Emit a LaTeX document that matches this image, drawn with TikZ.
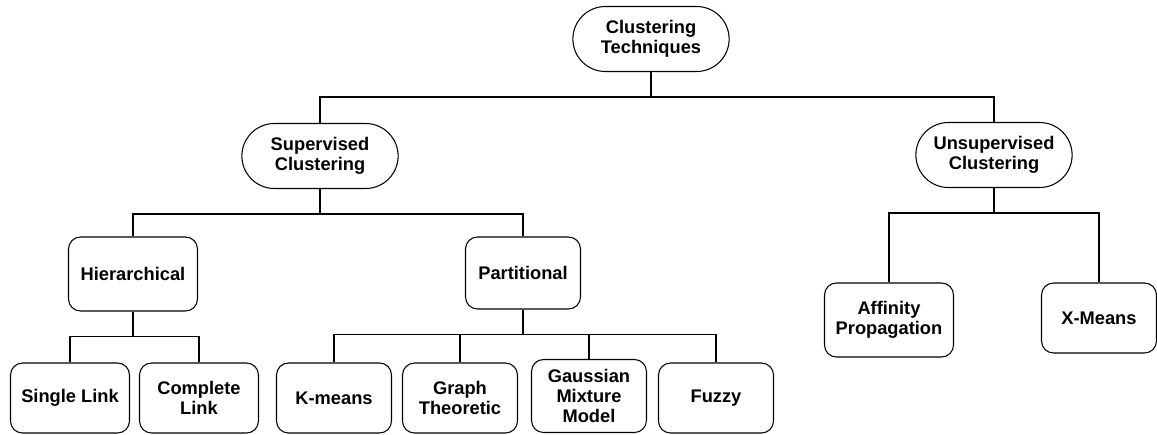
\documentclass[tikz,border=0pt]{standalone}
\usepackage{fontspec}
\setmainfont{Liberation Sans}
\usetikzlibrary{shapes.misc}

\begin{document}
\begin{tikzpicture}[
    x=0.02cm, y=-0.02cm,
    every node/.style = {font=\bfseries\fontsize{10.4}{11.2}\selectfont, align=center, line width=0.6pt},
    pill/.style = {rounded rectangle, draw, minimum width=3.36cm, minimum height=1.3cm},
    box/.style = {rectangle, draw, rounded corners=0.24cm, minimum width=2.3cm, minimum height=1.4cm},
    bigbox/.style = {box, minimum width=2.58cm, minimum height=1.48cm},
    link/.style = {line width=0.6pt, to path={(\tikztostart.south) -- ++(0,-0.5cm) -| (\tikztotarget.north)}}
    ]
    \useasboundingbox (0,0) rectangle (1157,434);
    % top levels
    \node[pill] (root) at (651,39) {Clustering\\Techniques};
    \node[pill] (sup) at (320,156) {Supervised\\Clustering};
    \node[pill] (uns) at (994,155) {Unsupervised\\Clustering};
    % supervised branch
    \node[bigbox] (hier) at (133,274) {Hierarchical};
    \node[box, minimum height=1.44cm] (part) at (523,273) {Partitional};
    \node[box, minimum width=2.38cm] (single) at (70,398) {Single Link};
    \node[box, minimum width=2.38cm] (complete) at (199,398) {Complete\\Link};
    \node[box] (kmeans) at (334,398) {K-means};
    \node[box] (graph) at (460,398) {Graph\\Theoretic};
    \node[box, minimum height=1.46cm] (gauss) at (589,396) {Gaussian\\Mixture\\Model};
    \node[box] (fuzzy) at (716,398) {Fuzzy};
    % unsupervised branch
    \node[bigbox] (aff) at (889,320) {Affinity\\Propagation};
    \node[box] (xmeans) at (1099,318) {X-Means};
    \path[link] (root) edge (sup) edge (uns);
    \path[link] (sup) edge (hier) edge (part);
    \path[link] (hier) edge (single) edge (complete);
    \path[link] (part) edge (kmeans) edge (graph) edge (gauss) edge (fuzzy);
    \path[link] (uns) edge (aff) edge (xmeans);
\end{tikzpicture}
\end{document}
